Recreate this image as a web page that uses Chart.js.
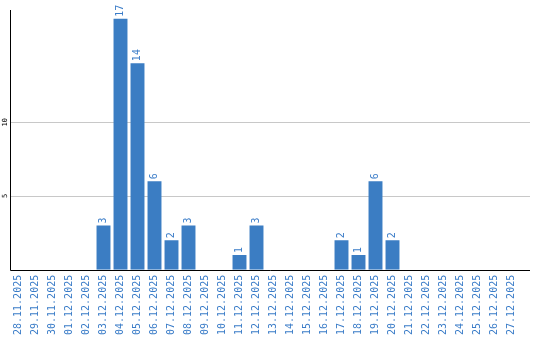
<!DOCTYPE html>
<html>
<head>
<meta charset="utf-8">
<script src="https://cdn.jsdelivr.net/npm/chart.js@4"></script>
<style>
html, body { margin: 0; padding: 0; background: #fff; }
</style>
</head>
<body>
<canvas id="barChart" width="540" height="340"></canvas>
<script>
const days = [
    '28.11.2025', '29.11.2025', '30.11.2025', '01.12.2025', '02.12.2025',
    '03.12.2025', '04.12.2025', '05.12.2025', '06.12.2025', '07.12.2025',
    '08.12.2025', '09.12.2025', '10.12.2025', '11.12.2025', '12.12.2025',
    '13.12.2025', '14.12.2025', '15.12.2025', '16.12.2025', '17.12.2025',
    '18.12.2025', '19.12.2025', '20.12.2025', '21.12.2025', '22.12.2025',
    '23.12.2025', '24.12.2025', '25.12.2025', '26.12.2025', '27.12.2025'
];
const counts = [0, 0, 0, 0, 0, 3, 17, 14, 6, 2, 3, 0, 0, 1, 3, 0, 0, 0, 0, 2, 1, 6, 2, 0, 0, 0, 0, 0, 0, 0];
const yTicks = [5, 10];

const barColor = '#3b7dc3';
const labelColor = '#3a7cc8';
const mono = '"DejaVu Sans Mono", "Liberation Mono", monospace';

// grid lines, axis lines, y labels and value labels drawn by hand
const decorations = {
    id: 'decorations',
    beforeDatasetsDraw(chart) {
        const { ctx, chartArea, scales: { y } } = chart;
        const right = chartArea.right + 10;
        ctx.save();
        ctx.strokeStyle = '#c8c8c8';
        ctx.lineWidth = 1;
        yTicks.forEach(v => {
            const py = Math.round(y.getPixelForValue(v)) + 0.5;
            ctx.beginPath();
            ctx.moveTo(chartArea.left, py);
            ctx.lineTo(right, py);
            ctx.stroke();
        });
        ctx.fillStyle = '#000';
        ctx.font = '7px ' + mono;
        ctx.textAlign = 'center';
        ctx.textBaseline = 'alphabetic';
        yTicks.forEach(v => {
            ctx.save();
            ctx.translate(chartArea.left - 3, y.getPixelForValue(v));
            ctx.rotate(-Math.PI / 2);
            ctx.fillText(String(v), 0, 0);
            ctx.restore();
        });
        ctx.restore();
    },
    afterDatasetsDraw(chart) {
        const { ctx, chartArea } = chart;
        ctx.save();
        ctx.strokeStyle = '#000';
        ctx.lineWidth = 1;
        const lx = Math.round(chartArea.left) + 0.5;
        const by = Math.round(chartArea.bottom) + 0.5;
        ctx.beginPath();
        ctx.moveTo(lx, chartArea.top);
        ctx.lineTo(lx, by);
        ctx.lineTo(chartArea.right + 10, by);
        ctx.stroke();

        ctx.fillStyle = labelColor;
        ctx.font = '10px ' + mono;
        ctx.textAlign = 'left';
        ctx.textBaseline = 'middle';
        chart.getDatasetMeta(0).data.forEach((bar, i) => {
            if (!counts[i]) return;
            ctx.save();
            ctx.translate(bar.x, bar.y - 2);
            ctx.rotate(-Math.PI / 2);
            ctx.fillText(String(counts[i]), 0, 0);
            ctx.restore();
        });
        ctx.restore();
    }
};

new Chart(document.getElementById('barChart').getContext('2d'), {
    type: 'bar',
    data: {
        labels: days,
        datasets: [{
            data: counts,
            backgroundColor: barColor,
            borderWidth: 0,
            barPercentage: 0.82,
            categoryPercentage: 1
        }]
    },
    options: {
        responsive: false,
        animation: false,
        layout: { padding: { left: 10, right: 20, top: 10, bottom: 0 } },
        plugins: { legend: { display: false }, tooltip: { enabled: false } },
        scales: {
            x: {
                grid: { display: false, drawTicks: false },
                border: { display: false },
                ticks: {
                    color: labelColor,
                    font: { family: mono, size: 10 },
                    minRotation: 90,
                    maxRotation: 90,
                    autoSkip: false,
                    padding: 5
                }
            },
            y: {
                display: false,
                min: 0,
                max: 17.6
            }
        }
    },
    plugins: [decorations]
});
</script>
</body>
</html>
